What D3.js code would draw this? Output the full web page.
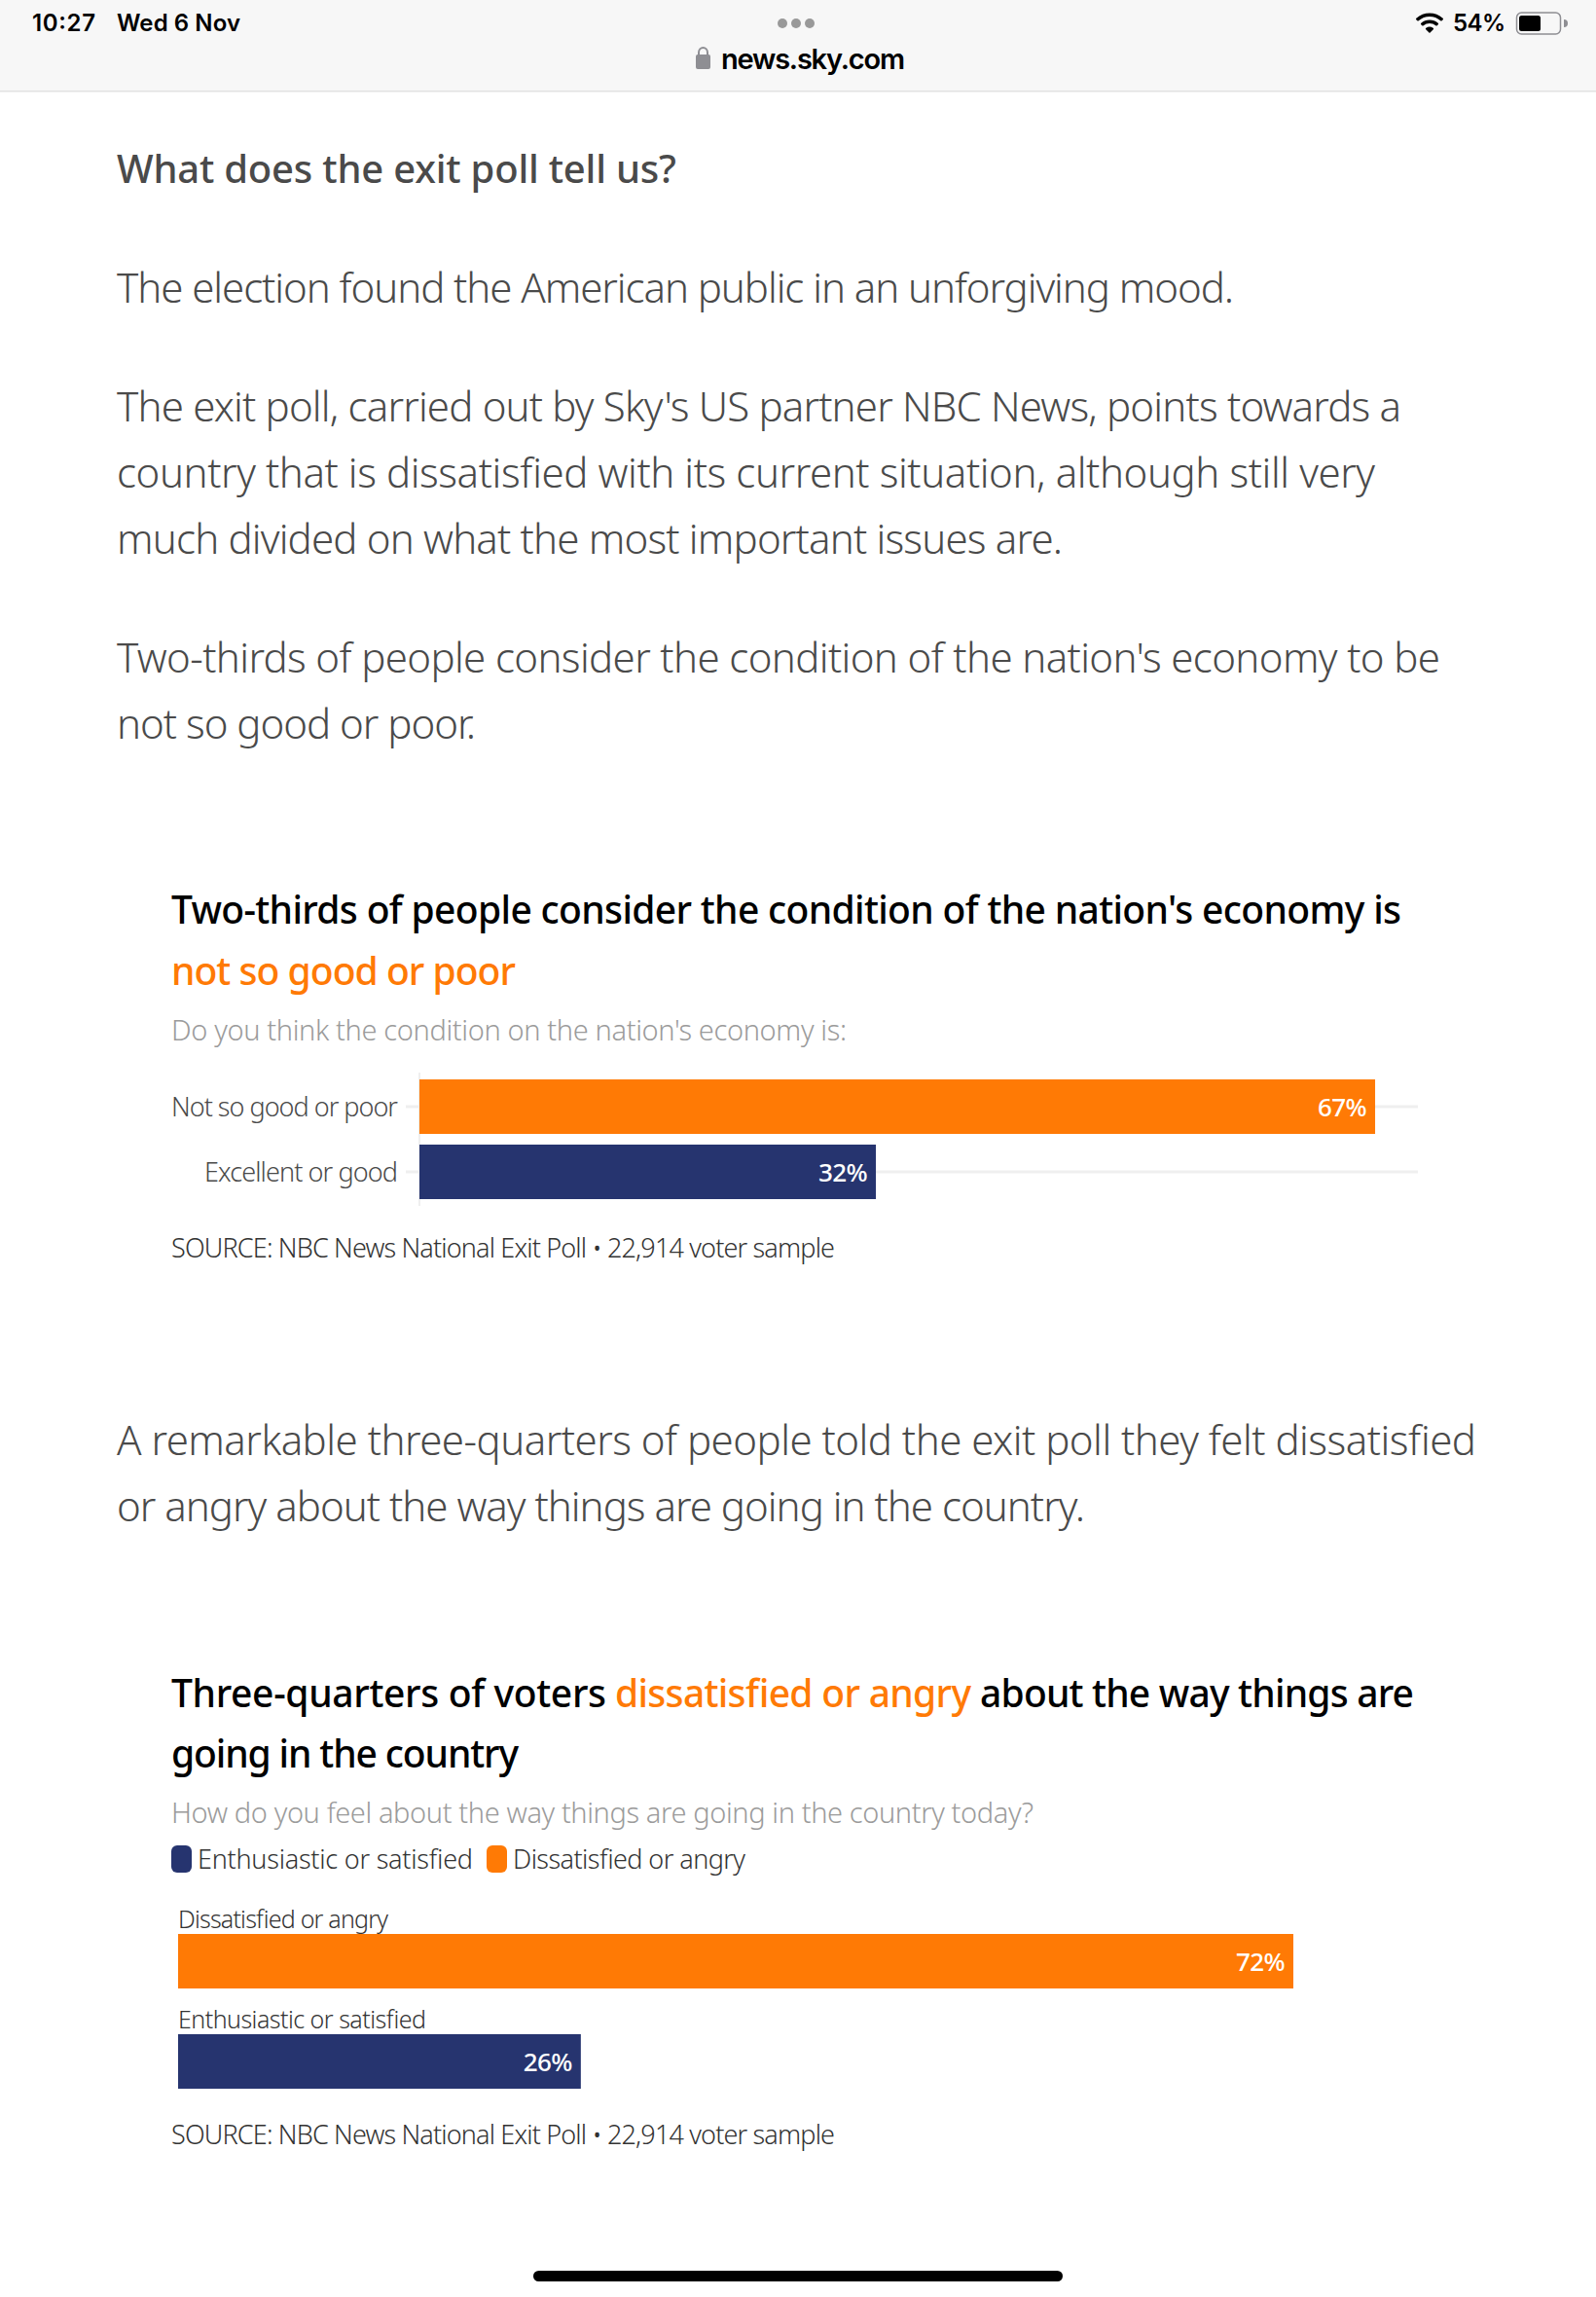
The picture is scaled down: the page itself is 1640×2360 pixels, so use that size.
<!DOCTYPE html>
<html>
<head>
<meta charset="utf-8">
<title>What does the exit poll tell us?</title>
<script src="https://cdn.jsdelivr.net/npm/d3@7"></script>
<style>
html, body { margin: 0; padding: 0; background: #fff; }
svg { display: block; }
text { font-family: "Noto Sans", "Open Sans", sans-serif; }
text.chrome { font-family: Inter, "Liberation Sans", sans-serif; }
</style>
</head>
<body>
<svg id="page" width="1640" height="2360"></svg>
<script>
// chart values
var economyLabels = ["Not so good or poor", "Excellent or good"];
var economyValues = [67, 32];
var moodLabels = ["Dissatisfied or angry", "Enthusiastic or satisfied"];
var moodValues = [72, 26];
var legendLabels = ["Enthusiastic or satisfied", "Dissatisfied or angry"];

var heading = "What does the exit poll tell us?";
var para1 = ["The election found the American public in an unforgiving mood."];
var para2 = ["The exit poll, carried out by Sky's US partner NBC News, points towards a",
	"country that is dissatisfied with its current situation, although still very",
	"much divided on what the most important issues are."];
var para3 = ["Two-thirds of people consider the condition of the nation's economy to be",
	"not so good or poor."];
var para4 = ["A remarkable three-quarters of people told the exit poll they felt dissatisfied",
	"or angry about the way things are going in the country."];
var source = "SOURCE: NBC News National Exit Poll \u2022 22,914 voter sample";

var orange = "#ff7a05";
var navy = "#26346f";
var bodyGrey = "#4a4a4a";
var trackGrey = "#efefef";

var svg = d3.select("#page");

// text helper: x0 to x1 is the width the string has in the picture
function txt(str, x0, x1, y, size, weight, fill, anchor) {
	var t = svg.append("text")
		.attr("x", anchor == "end" ? x1 : x0)
		.attr("y", y)
		.attr("font-size", size)
		.attr("font-weight", weight)
		.attr("fill", fill)
		.attr("text-anchor", anchor || "start")
		.text(str);
	if (x1 != null && x0 != null) {
		t.attr("textLength", x1 - x0).attr("lengthAdjust", "spacing");
	}
	return t;
}

// browser chrome
svg.append("rect").attr("width", 1640).attr("height", 93).attr("fill", "#f7f7f7");
svg.append("rect").attr("y", 93).attr("width", 1640).attr("height", 1.5).attr("fill", "#e2e2e2");
txt("10:27", 33, 98, 32, 24, 600, "#000").classed("chrome", true);
txt("Wed 6 Nov", 120, 247, 32, 24, 600, "#000").classed("chrome", true);
[804, 818, 832].forEach(function(cx) {
	svg.append("ellipse").attr("cx", cx).attr("cy", 24).attr("rx", 5).attr("ry", 5).attr("fill", "#999");
});
txt("news.sky.com", 741, 930, 71, 29, 600, "#000").classed("chrome", true);
// lock
svg.append("rect").attr("x", 715).attr("y", 56).attr("width", 15).attr("height", 15).attr("rx", 2).attr("fill", "#8e8e93");
svg.append("path").attr("d", "M718,57 v-3 a4.5,5 0 0 1 9,0 v3").attr("fill", "none").attr("stroke", "#8e8e93").attr("stroke-width", 2);
// wifi
var wifiArc = d3.arc().startAngle(-0.78).endAngle(0.78).cornerRadius(1);
[[0, 6.5], [10, 13.5], [17, 20.5]].forEach(function(r) {
	svg.append("path")
		.attr("transform", "translate(1469,34)")
		.attr("d", wifiArc({innerRadius: r[0], outerRadius: r[1]}))
		.attr("fill", "#000");
});
txt("54%", 1493, 1547, 32, 24, 600, "#000").classed("chrome", true);
// battery
svg.append("rect").attr("x", 1558.5).attr("y", 13).attr("width", 45).attr("height", 22).attr("rx", 5)
	.attr("fill", "none").attr("stroke", "#8e8e93").attr("stroke-width", 1.5);
svg.append("rect").attr("x", 1561).attr("y", 16).attr("width", 22).attr("height", 16).attr("rx", 2.5).attr("fill", "#000");
svg.append("path").attr("d", "M1607,20 a4,4 0 0 1 0,8 z").attr("fill", "#8e8e93");

// article text
txt(heading, 120, 695, 188, 40, 500, bodyGrey);
txt(para1[0], 120, 1268, 311, 42, 300, bodyGrey);
txt(para2[0], 120, 1440, 433, 42, 300, bodyGrey);
txt(para2[1], 120, 1413, 501, 42, 300, bodyGrey);
txt(para2[2], 120, 1092, 569, 42, 300, bodyGrey);
txt(para3[0], 120, 1480, 691, 42, 300, bodyGrey);
txt(para3[1], 120, 489, 759, 42, 300, bodyGrey);
txt(para4[0], 120, 1517, 1495, 42, 300, bodyGrey);
txt(para4[1], 120, 1115, 1563, 42, 300, bodyGrey);

// first chart
txt("Two-thirds of people consider the condition of the nation's economy is", 176, 1440, 949, 39, 500, "#000");
txt("not so good or poor", 176, 530, 1012, 39, 500, orange);
txt("Do you think the condition on the nation's economy is:", 176, 870, 1069, 29, 300, "#9b9b9b");

var x1 = d3.scaleLinear().domain([0, 70]).range([431, 1457]);
var y1 = d3.scaleBand().domain(economyLabels).range([1109, 1232]).paddingInner(0.164);

var axis1 = svg.append("g")
	.attr("transform", "translate(431,0)")
	.call(d3.axisLeft(y1).tickSize(14).tickPadding(8));
axis1.select(".domain").remove();
axis1.selectAll("line").attr("stroke", trackGrey).attr("stroke-width", 3);
axis1.selectAll("text").attr("font-size", 27).attr("font-weight", 300).attr("fill", bodyGrey)
	.attr("dy", "0.37em")
	.attr("textLength", function(d, i) { return [233, 199][i]; })
	.attr("lengthAdjust", "spacing");

svg.append("line").attr("x1", 431).attr("x2", 431).attr("y1", 1102).attr("y2", 1239)
	.attr("stroke", trackGrey).attr("stroke-width", 2);

svg.selectAll("line.track")
	.data(economyLabels)
	.enter()
	.append("line")
	.classed("track", true)
	.attr("x1", x1(0))
	.attr("x2", x1(70))
	.attr("y1", function(d) { return y1(d) + y1.bandwidth() / 2; })
	.attr("y2", function(d) { return y1(d) + y1.bandwidth() / 2; })
	.attr("stroke", trackGrey)
	.attr("stroke-width", 3);

svg.selectAll("rect.bar1")
	.data(economyValues)
	.enter()
	.append("rect")
	.classed("bar1", true)
	.attr("x", x1(0))
	.attr("y", function(d, i) { return y1(economyLabels[i]); })
	.attr("width", function(d) { return x1(d) - x1(0); })
	.attr("height", y1.bandwidth())
	.attr("fill", function(d, i) { return i == 0 ? orange : navy; });

svg.selectAll("text.val1")
	.data(economyValues)
	.enter()
	.append("text")
	.classed("val1", true)
	.attr("x", function(d) { return x1(d) - 9; })
	.attr("y", function(d, i) { return y1(economyLabels[i]) + y1.bandwidth() / 2 + 10; })
	.attr("text-anchor", "end")
	.attr("font-size", 26)
	.attr("font-weight", 500)
	.attr("letter-spacing", -0.6)
	.attr("fill", "#fff")
	.text(function(d) { return d + "%"; });

txt(source, 176, 858, 1292, 27, 300, "#333");

// second chart
txt("Three-quarters of voters", 176, 623, 1754, 39, 500, "#000");
txt("dissatisfied or angry", 632, 998, 1754, 39, 500, orange);
txt("about the way things are", 1007, 1453, 1754, 39, 500, "#000");
txt("going in the country", 176, 533, 1816, 39, 500, "#000");
txt("How do you feel about the way things are going in the country today?", 176, 1873, 1873, 29, 300, "#9b9b9b").attr("textLength", 886);

var legendColor = d3.scaleOrdinal().domain(legendLabels).range([navy, orange]);
var legendX = d3.scaleOrdinal().domain(legendLabels).range([176, 500]);
var legendEnd = d3.scaleOrdinal().domain(legendLabels).range([486, 766]);
legendLabels.forEach(function(d) {
	svg.append("rect")
		.attr("x", legendX(d))
		.attr("y", 1896)
		.attr("width", 21)
		.attr("height", 28)
		.attr("rx", 6)
		.attr("fill", legendColor(d));
	txt(d, legendX(d) + 27, legendEnd(d), 1920, 27, 300, "#333");
});

var x2 = d3.scaleLinear().domain([0, 72]).range([183, 1329]);
var y2 = d3.scaleBand().domain(moodLabels).range([1987, 2146]).paddingInner(0.456);

svg.selectAll("rect.bar2")
	.data(moodValues)
	.enter()
	.append("rect")
	.classed("bar2", true)
	.attr("x", x2(0))
	.attr("y", function(d, i) { return y2(moodLabels[i]); })
	.attr("width", function(d) { return x2(d) - x2(0); })
	.attr("height", y2.bandwidth())
	.attr("fill", function(d, i) { return i == 0 ? orange : navy; });

svg.selectAll("text.val2")
	.data(moodValues)
	.enter()
	.append("text")
	.classed("val2", true)
	.attr("x", function(d) { return x2(d) - 9; })
	.attr("y", function(d, i) { return y2(moodLabels[i]) + y2.bandwidth() / 2 + 10; })
	.attr("text-anchor", "end")
	.attr("font-size", 26)
	.attr("font-weight", 500)
	.attr("letter-spacing", -0.6)
	.attr("fill", "#fff")
	.text(function(d) { return d + "%"; });

svg.selectAll("text.cat2")
	.data(moodLabels)
	.enter()
	.append("text")
	.classed("cat2", true)
	.attr("x", x2(0))
	.attr("y", function(d) { return y2(d) - 6; })
	.attr("font-size", 25)
	.attr("font-weight", 300)
	.attr("fill", "#333")
	.attr("textLength", function(d, i) { return [216, 255][i]; })
	.attr("lengthAdjust", "spacing")
	.text(function(d) { return d; });

txt(source, 176, 858, 2203, 27, 300, "#333");

// home indicator
svg.append("rect").attr("x", 548).attr("y", 2333).attr("width", 544).attr("height", 11).attr("rx", 5.5).attr("fill", "#000");
</script>
</body>
</html>
